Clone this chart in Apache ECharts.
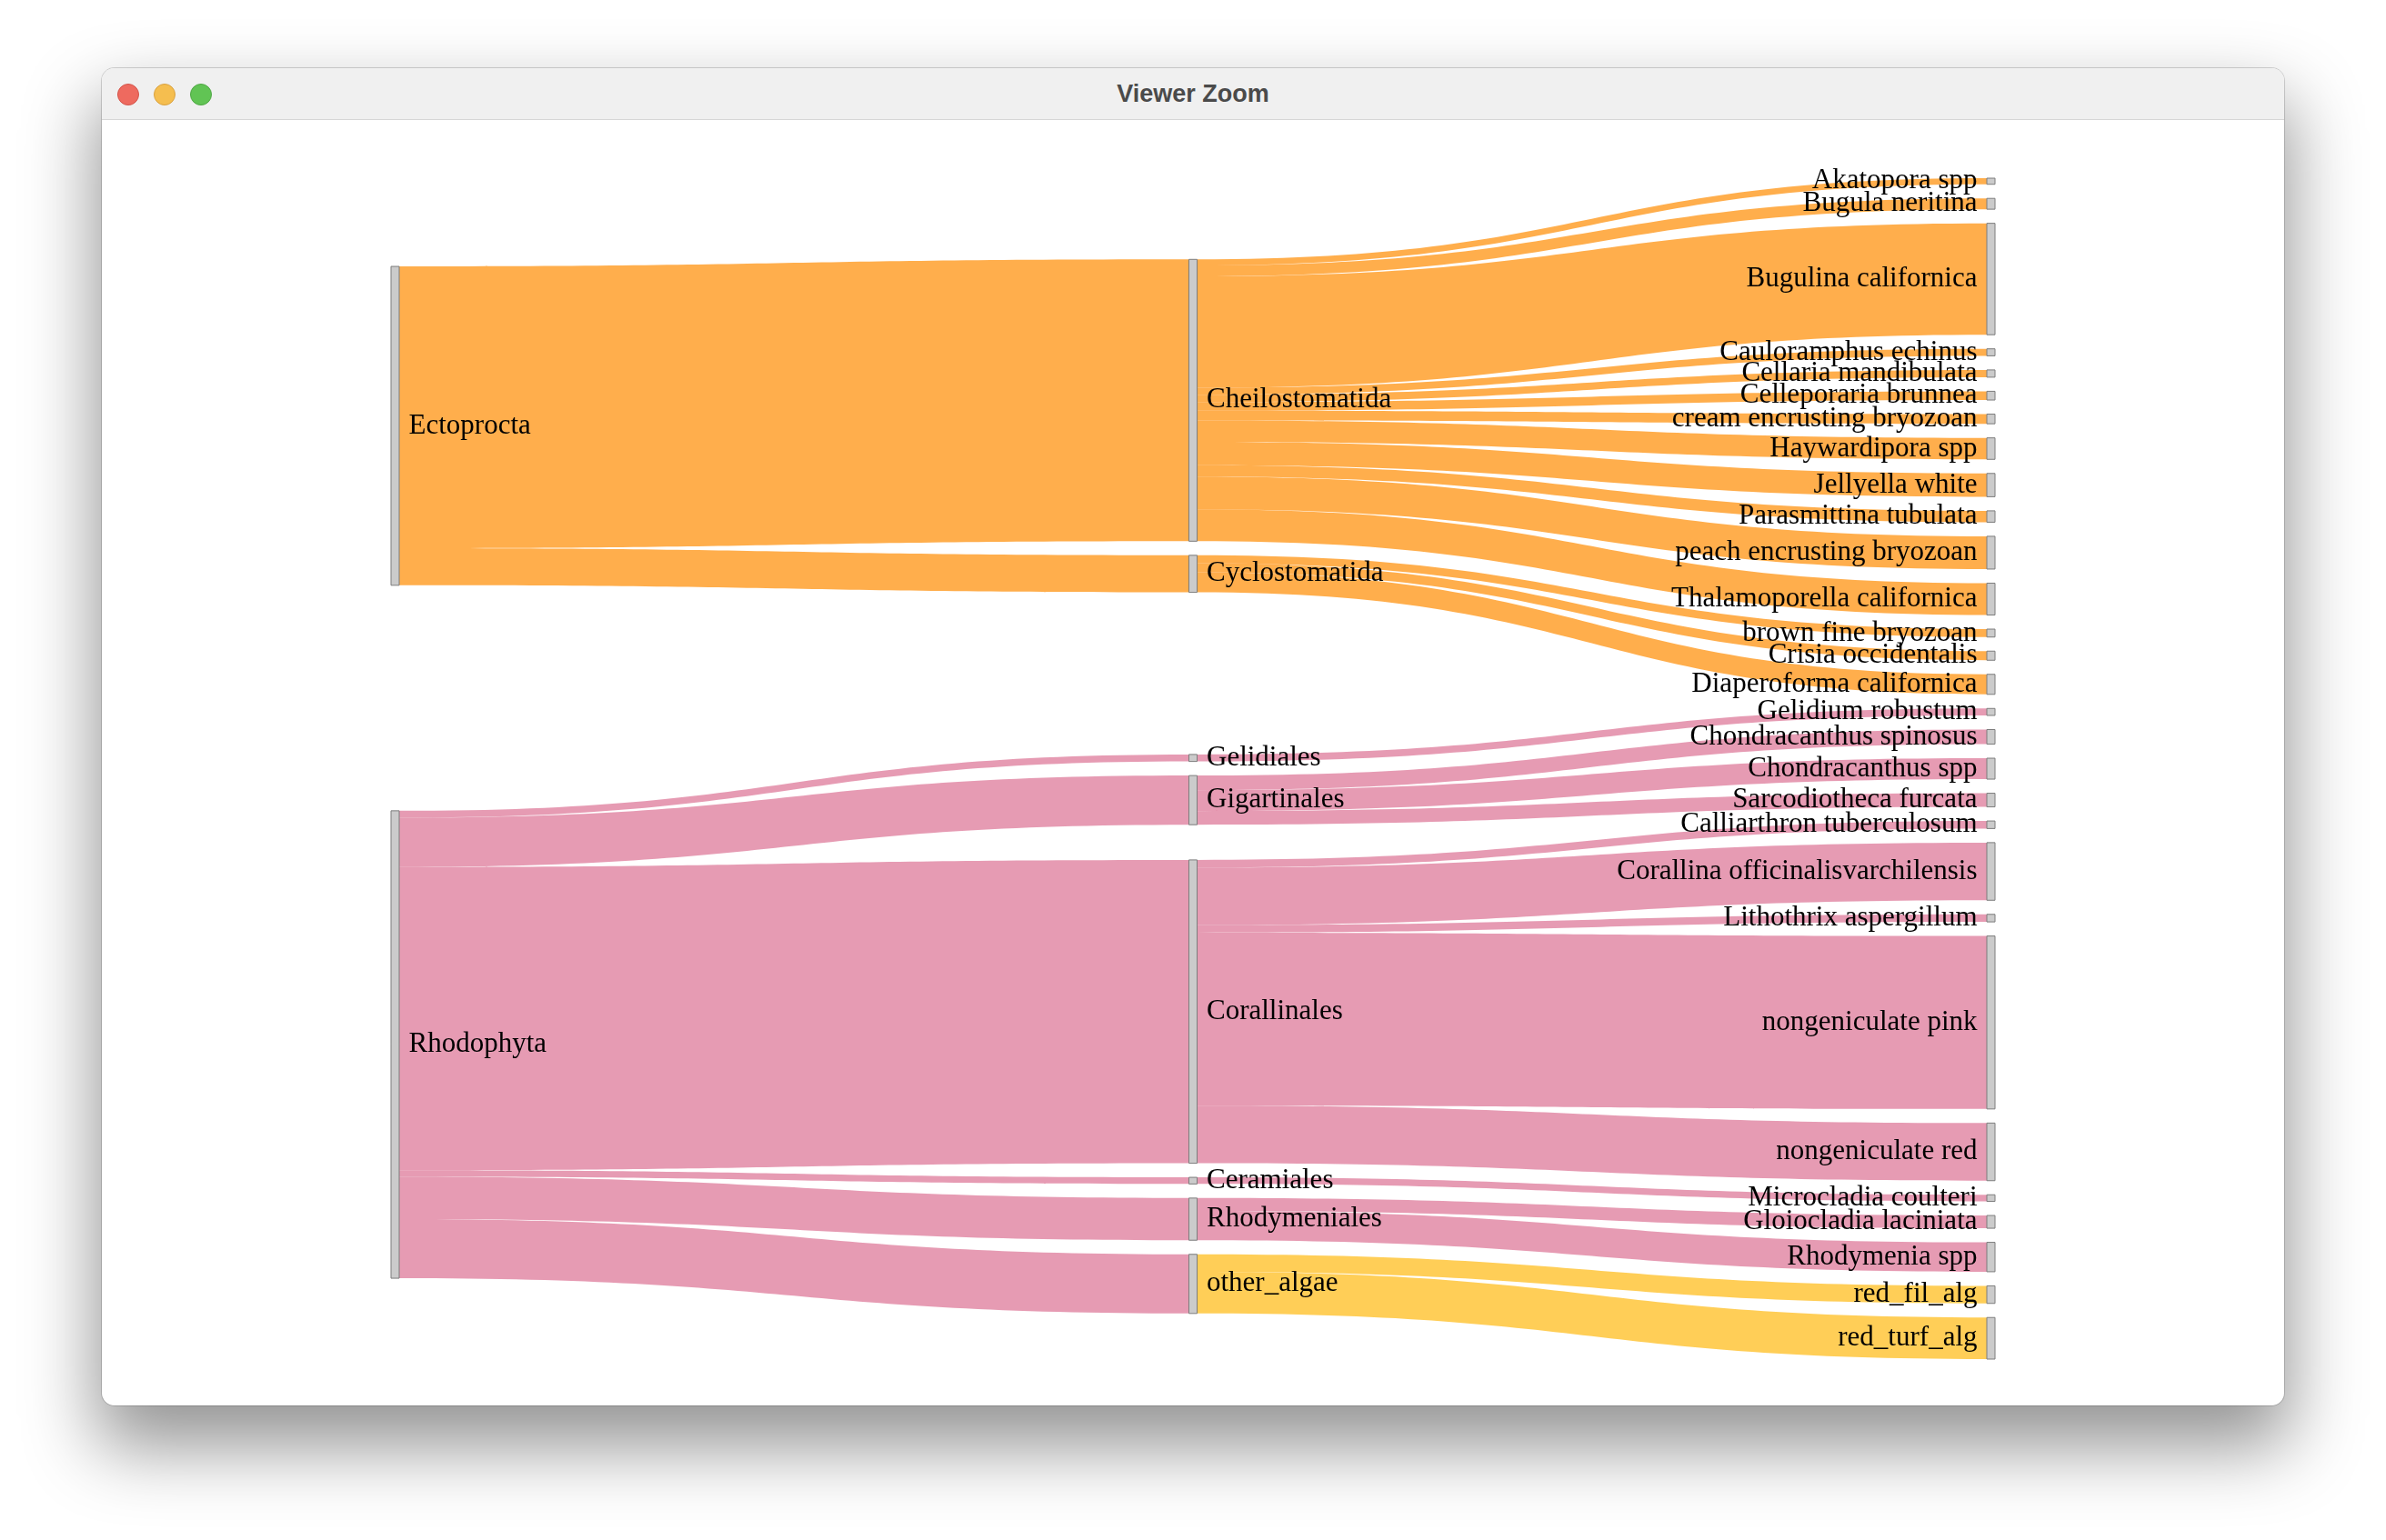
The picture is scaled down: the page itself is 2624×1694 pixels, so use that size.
<!DOCTYPE html>
<html>
<head>
<meta charset="utf-8">
<script src="https://cdn.jsdelivr.net/npm/echarts@6/dist/echarts.min.js"></script>
<style>
  html, body { margin: 0; padding: 0; width: 2624px; height: 1694px; background: #ffffff; overflow: hidden; }
  #win { position: absolute; left: 112px; top: 75px; width: 2400px; height: 1471px; border-radius: 14px;
         background: #ffffff; box-shadow: 0 40px 80px 6px rgba(0,0,0,0.42), 0 0 0 1px rgba(0,0,0,0.16); overflow: hidden; z-index: 1; }
  #bar { position: absolute; left: 0; top: 0; width: 100%; height: 56px; background: #f0f0f0; border-bottom: 1px solid #d6d6d6; }
  .dot { position: absolute; top: 17px; width: 22px; height: 22px; border-radius: 50%; }
  #title { position: absolute; left: 0; top: 0; width: 100%; height: 57px; line-height: 57px; text-align: center;
           font-family: "Liberation Sans", Arial, sans-serif; font-weight: bold; font-size: 27px; color: #4a4a4a; }
  #chart { position: absolute; left: 0; top: 0; width: 2624px; height: 1694px; z-index: 2; }
</style>
</head>
<body>
<div id="win">
  <div id="bar">
    <div class="dot" style="left:17px;background:#ee6a5f;border:1px solid #d3554b;"></div>
    <div class="dot" style="left:57px;background:#f5be4f;border:1px solid #d9a13f;"></div>
    <div class="dot" style="left:97px;background:#61c454;border:1px solid #4fa744;"></div>
    <div id="title">Viewer Zoom</div>
  </div>
</div>
<div id="chart"></div>
<script>
// ---------------- data ----------------
const phyla = ['Ectoprocta', 'Rhodophyta'];
const orders = ['Cheilostomatida', 'Cyclostomatida', 'Gelidiales', 'Gigartinales',
                'Corallinales', 'Ceramiales', 'Rhodymeniales', 'other_algae'];
const orderPhylum = ['Ectoprocta', 'Ectoprocta', 'Rhodophyta', 'Rhodophyta',
                     'Rhodophyta', 'Rhodophyta', 'Rhodophyta', 'Rhodophyta'];
const taxa = [
  'Akatopora spp', 'Bugula neritina', 'Bugulina californica', 'Cauloramphus echinus',
  'Cellaria mandibulata', 'Celleporaria brunnea', 'cream encrusting bryozoan', 'Haywardipora spp',
  'Jellyella white', 'Parasmittina tubulata', 'peach encrusting bryozoan', 'Thalamoporella californica',
  'brown fine bryozoan', 'Crisia occidentalis', 'Diaperoforma californica',
  'Gelidium robustum',
  'Chondracanthus spinosus', 'Chondracanthus spp', 'Sarcodiotheca furcata',
  'Calliarthron tuberculosum', 'Corallina officinalisvarchilensis', 'Lithothrix aspergillum',
  'nongeniculate pink', 'nongeniculate red',
  'Microcladia coulteri',
  'Gloiocladia laciniata', 'Rhodymenia spp',
  'red_fil_alg', 'red_turf_alg'
];
const taxonOrder = [
  'Cheilostomatida', 'Cheilostomatida', 'Cheilostomatida', 'Cheilostomatida',
  'Cheilostomatida', 'Cheilostomatida', 'Cheilostomatida', 'Cheilostomatida',
  'Cheilostomatida', 'Cheilostomatida', 'Cheilostomatida', 'Cheilostomatida',
  'Cyclostomatida', 'Cyclostomatida', 'Cyclostomatida',
  'Gelidiales',
  'Gigartinales', 'Gigartinales', 'Gigartinales',
  'Corallinales', 'Corallinales', 'Corallinales', 'Corallinales', 'Corallinales',
  'Ceramiales',
  'Rhodymeniales', 'Rhodymeniales',
  'other_algae', 'other_algae'
];
const taxonValue = [
  6.7, 11.9, 122.4, 7.7,
  8.0, 9.6, 10.6, 23.6,
  25.6, 12.5, 36.0, 35.0,
  8.7, 10.0, 22.0,
  7.7,
  16.0, 23.0, 15.0,
  8.3, 63.3, 8.3, 190.0, 63.3,
  7.3,
  14.0, 32.3,
  19.3, 45.7
];

// ---------------- styles ----------------
const phylumColor = { Ectoprocta: '#FF8C00', Rhodophyta: '#DB7093' };
const otherAlgaeColor = '#FFB90F';
const W = 2624, H = 1694;
const SL = 430, SR = 430, ST = 196, SB = 199;
const NODE_GAP = 15.5, NODE_W = 9, ITER = 1;
const FONT = '"Liberation Serif", "Times New Roman", Times, serif';

// ---------------- graph ----------------
const nodeList = [];
phyla.forEach(n => nodeList.push({ name: n, layer: 0 }));
orders.forEach(n => nodeList.push({ name: n, layer: 1 }));
taxa.forEach(n => nodeList.push({ name: n, layer: 2 }));
const byName = {};
nodeList.forEach(n => byName[n.name] = n);

const linkList = [];
// phylum -> order (summed over the order's taxa)
orders.forEach((ord, j) => {
  const ph = orderPhylum[j];
  let v = 0;
  taxa.forEach((t, i) => { if (taxonOrder[i] === ord) v += taxonValue[i]; });
  linkList.push({ source: byName[ph], target: byName[ord], value: v, color: phylumColor[ph] });
});
// order -> taxon
taxa.forEach((t, i) => {
  const ord = taxonOrder[i];
  const ph = orderPhylum[orders.indexOf(ord)];
  linkList.push({ source: byName[ord], target: byName[t], value: taxonValue[i],
                  color: ord === 'other_algae' ? otherAlgaeColor : phylumColor[ph] });
});

// vertical node placement following the d3-sankey relaxation (input order kept)
function relaxLayout(nodes, links, y0, y1, py, iterations) {
  nodes.forEach(n => { n.sourceLinks = []; n.targetLinks = []; });
  links.forEach((l, i) => { l.index = i; l.source.sourceLinks.push(l); l.target.targetLinks.push(l); });
  const sumV = arr => arr.reduce((a, l) => a + l.value, 0);
  nodes.forEach(n => n.value = Math.max(sumV(n.sourceLinks), sumV(n.targetLinks)));
  const columns = [];
  nodes.forEach(n => (columns[n.layer] || (columns[n.layer] = [])).push(n));
  const ky = Math.min(...columns.map(c => (y1 - y0 - (c.length - 1) * py) / c.reduce((a, n) => a + n.value, 0)));
  const asc = (a, b) => a.y0 - b.y0;
  const ascT = (a, b) => asc(a.target, b.target) || a.index - b.index;
  const ascS = (a, b) => asc(a.source, b.source) || a.index - b.index;
  const reorderLinks = col => col.forEach(n => { n.sourceLinks.sort(ascT); n.targetLinks.sort(ascS); });
  const reorderNodeLinks = n => {
    n.targetLinks.forEach(l => l.source.sourceLinks.sort(ascT));
    n.sourceLinks.forEach(l => l.target.targetLinks.sort(ascS));
  };
  columns.forEach(col => {
    let y = y0;
    col.forEach(n => { n.y0 = y; n.y1 = y + n.value * ky; y = n.y1 + py; n.sourceLinks.forEach(l => l.width = l.value * ky); });
    y = (y1 - y + py) / (col.length + 1);
    col.forEach((n, i) => { n.y0 += y * (i + 1); n.y1 += y * (i + 1); });
    reorderLinks(col);
  });
  function targetTop(s, t) {
    let y = s.y0 - (s.sourceLinks.length - 1) * py / 2;
    for (const l of s.sourceLinks) { if (l.target === t) break; y += l.width + py; }
    for (const l of t.targetLinks) { if (l.source === s) break; y -= l.width; }
    return y;
  }
  function sourceTop(s, t) {
    let y = t.y0 - (t.targetLinks.length - 1) * py / 2;
    for (const l of t.targetLinks) { if (l.source === s) break; y += l.width + py; }
    for (const l of s.sourceLinks) { if (l.target === t) break; y -= l.width; }
    return y;
  }
  function down(col, y, i, a) { for (; i < col.length; ++i) { const n = col[i]; const d = (y - n.y0) * a; if (d > 1e-6) { n.y0 += d; n.y1 += d; } y = n.y1 + py; } }
  function up(col, y, i, a) { for (; i >= 0; --i) { const n = col[i]; const d = (n.y1 - y) * a; if (d > 1e-6) { n.y0 -= d; n.y1 -= d; } y = n.y0 - py; } }
  function resolve(col, a) {
    const i = col.length >> 1, s = col[i];
    up(col, s.y0 - py, i - 1, a);
    down(col, s.y1 + py, i + 1, a);
    up(col, y1, col.length - 1, a);
    down(col, y0, 0, a);
  }
  for (let it = 0; it < iterations; ++it) {
    const alpha = Math.pow(0.99, it), beta = Math.max(1 - alpha, (it + 1) / iterations);
    for (let c = columns.length - 2; c >= 0; --c) {
      columns[c].forEach(s => {
        let y = 0, w = 0;
        s.sourceLinks.forEach(l => { const v = l.value * (l.target.layer - s.layer); y += sourceTop(s, l.target) * v; w += v; });
        if (!(w > 0)) return;
        const d = (y / w - s.y0) * alpha; s.y0 += d; s.y1 += d; reorderNodeLinks(s);
      });
      resolve(columns[c], beta);
    }
    for (let c = 1; c < columns.length; ++c) {
      columns[c].forEach(t => {
        let y = 0, w = 0;
        t.targetLinks.forEach(l => { const v = l.value * (t.layer - l.source.layer); y += targetTop(l.source, t) * v; w += v; });
        if (!(w > 0)) return;
        const d = (y / w - t.y0) * alpha; t.y0 += d; t.y1 += d; reorderNodeLinks(t);
      });
      resolve(columns[c], beta);
    }
  }
}
const seriesH = H - ST - SB;
relaxLayout(nodeList, linkList, 0, seriesH, NODE_GAP, ITER);

const chart = echarts.init(document.getElementById('chart'), null, { renderer: 'canvas' });
chart.setOption({
  backgroundColor: 'transparent',
  animation: false,
  series: [{
    type: 'sankey',
    left: SL, right: SR, top: ST, bottom: SB,
    nodeWidth: NODE_W,
    nodeGap: NODE_GAP,
    layoutIterations: 0,
    draggable: false,
    emphasis: { disabled: true },
    itemStyle: { color: '#cbcbcb', borderColor: '#7d7d7d', borderWidth: 1 },
    lineStyle: { curveness: 0.5, opacity: 0.7 },
    label: { show: true, position: 'right', distance: 10, color: '#000000',
             fontFamily: FONT, fontSize: 31 },
    data: nodeList.map(n => ({
      name: n.name,
      localY: n.y0 / seriesH,
      label: n.layer === 2 ? { position: 'left' } : undefined
    })),
    links: linkList.map(l => ({
      source: l.source.name, target: l.target.name, value: l.value,
      lineStyle: { color: l.color }
    }))
  }]
});
</script>
</body>
</html>
